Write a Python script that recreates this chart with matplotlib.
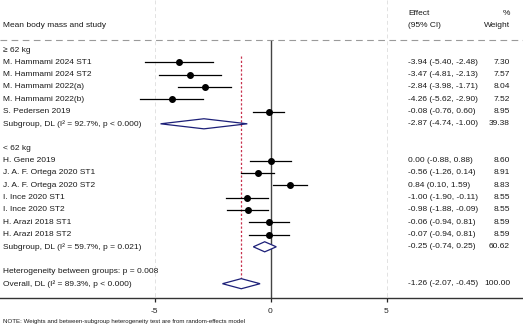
import matplotlib
matplotlib.use("Agg")
import matplotlib.pyplot as plt
import matplotlib.transforms as mtransforms
from matplotlib.patches import Polygon

plt.rcParams['font.family'] = ['Liberation Sans', 'DejaVu Sans']

# Study-level estimates (effect, lower CI, upper CI, weight %)
group1_label = "\u2265 62 kg"
group1_studies = ["M. Hammami 2024 ST1", "M. Hammami 2024 ST2", "M. Hammami 2022(a)",
                  "M. Hammami 2022(b)", "S. Pedersen 2019"]
group1_effect = [-3.94, -3.47, -2.84, -4.26, -0.08]
group1_lower = [-5.40, -4.81, -3.98, -5.62, -0.76]
group1_upper = [-2.48, -2.13, -1.71, -2.90, 0.60]
group1_weight = [7.30, 7.57, 8.04, 7.52, 8.95]
group1_sub_label = "Subgroup, DL (I\u00b2 = 92.7%, p < 0.000)"
group1_sub = (-2.87, -4.74, -1.00, 39.38)

group2_label = "< 62 kg"
group2_studies = ["H. Gene 2019", "J. A. F. Ortega 2020 ST1", "J. A. F. Ortega 2020 ST2",
                  "I. Ince 2020 ST1", "I. Ince 2020 ST2", "H. Arazi 2018 ST1", "H. Arazi 2018 ST2"]
group2_effect = [0.00, -0.56, 0.84, -1.00, -0.98, -0.06, -0.07]
group2_lower = [-0.88, -1.26, 0.10, -1.90, -1.88, -0.94, -0.94]
group2_upper = [0.88, 0.14, 1.59, -0.11, -0.09, 0.81, 0.81]
group2_weight = [8.60, 8.91, 8.83, 8.55, 8.55, 8.59, 8.59]
group2_sub_label = "Subgroup, DL (I\u00b2 = 59.7%, p = 0.021)"
group2_sub = (-0.25, -0.74, 0.25, 60.62)

between_label = "Heterogeneity between groups: p = 0.008"
overall_label = "Overall, DL (I\u00b2 = 89.3%, p < 0.000)"
overall = (-1.26, -2.07, -0.45, 100.00)

x_ticks = [-5, 0, 5]
note = "NOTE: Weights and between-subgroup heterogeneity test are from random-effects model"

W, H = 523, 326
fig = plt.figure(figsize=(W / 100, H / 100), dpi=100)
ax_bottom_px = 298
ax = fig.add_axes([0, (H - ax_bottom_px) / H, 1, ax_bottom_px / H])

row_px = 12.3
first_px = 50
ax.set_ylim((ax_bottom_px - first_px) / row_px, -first_px / row_px)
ax.set_xlim(-270.5 / 23.2, (W - 270.5) / 23.2)

for s in ["top", "left", "right"]:
    ax.spines[s].set_visible(False)
ax.spines["bottom"].set_linewidth(1.0)
ax.spines["bottom"].set_color("#333333")
ax.set_yticks([])
ax.set_xticks(x_ticks)
ax.set_xticklabels([str(t) for t in x_ticks], fontsize=6)
ax.tick_params(axis="x", direction="out", length=3, width=0.9, pad=4, colors="#222222")

trans = mtransforms.blended_transform_factory(ax.transAxes, ax.transData)
fs = 6
label_x = 3 / W
eff_x = 408 / W
wt_x = 510 / W
txt_color = "#1a1a1a"

# header
ax.text(label_x, -2.03, "Mean body mass and study", transform=trans, fontsize=fs, va="center", color=txt_color)
ax.text(eff_x, -3.0, "Effect", transform=trans, fontsize=fs, va="center", color=txt_color)
ax.text(eff_x, -2.03, "(95% CI)", transform=trans, fontsize=fs, va="center", color=txt_color)
ax.text(wt_x, -3.0, "%", transform=trans, fontsize=fs, va="center", ha="right", color=txt_color)
ax.text(wt_x, -2.03, "Weight", transform=trans, fontsize=fs, va="center", ha="right", color=txt_color)
ax.axhline(-0.81, color="#9a9a9a", lw=0.8, ls=(0, (6, 4)))

# faint reference grid
y_top, y_bot = ax.get_ylim()[1], ax.get_ylim()[0]
for t in [-5, 5]:
    ax.plot([t, t], [y_top, y_bot], color="#e2e2e2", lw=0.7, ls=(0, (4, 3)), zorder=0)

def fmt(e, lo, hi):
    return f"{e:.2f} ({lo:.2f}, {hi:.2f})"

def study_row(y, name, e, lo, hi, w):
    ax.text(label_x, y, name, transform=trans, fontsize=fs, va="center", color=txt_color)
    ax.plot([lo, hi], [y, y], color="black", lw=0.9, zorder=3)
    ax.plot([e], [y], marker="o", color="black", markersize=4.0, zorder=4)
    ax.text(eff_x, y, fmt(e, lo, hi), transform=trans, fontsize=fs, va="center", color=txt_color)
    ax.text(wt_x, y, f"{w:.2f}", transform=trans, fontsize=fs, va="center", ha="right", color=txt_color)

def diamond_row(y, name, vals):
    e, lo, hi, w = vals
    ax.text(label_x, y, name, transform=trans, fontsize=fs, va="center", color=txt_color)
    hh = 0.41
    poly = Polygon([[lo, y], [e, y - hh], [hi, y], [e, y + hh]], closed=True,
                   facecolor="white", edgecolor="#1c1f78", lw=0.9, zorder=4)
    ax.add_patch(poly)
    ax.text(eff_x, y, fmt(e, lo, hi), transform=trans, fontsize=fs, va="center", color=txt_color)
    ax.text(wt_x, y, f"{w:.2f}", transform=trans, fontsize=fs, va="center", ha="right", color=txt_color)

row = 0
ax.text(label_x, row, group1_label, transform=trans, fontsize=fs, va="center", color=txt_color)
row += 1
for i, name in enumerate(group1_studies):
    study_row(row, name, group1_effect[i], group1_lower[i], group1_upper[i], group1_weight[i])
    row += 1
diamond_row(row, group1_sub_label, group1_sub)
row += 2
ax.text(label_x, row, group2_label, transform=trans, fontsize=fs, va="center", color=txt_color)
row += 1
for i, name in enumerate(group2_studies):
    study_row(row, name, group2_effect[i], group2_lower[i], group2_upper[i], group2_weight[i])
    row += 1
diamond_row(row, group2_sub_label, group2_sub)
row += 2
ax.text(label_x, row, between_label, transform=trans, fontsize=fs, va="center", color=txt_color)
row += 1
overall_row = row
diamond_row(overall_row, overall_label, overall)

# line of no effect and overall-effect line
ax.plot([0, 0], [-0.75, y_bot], color="#444444", lw=1.0, zorder=2)
ax.plot([overall[0], overall[0]], [0.5, overall_row + 0.41], color="#c8324e",
        lw=0.9, ls=(0, (1.8, 1.6)), zorder=2)

fig.text(3 / W, 1 - 321 / H, note, fontsize=4.4, va="center", color=txt_color)

fig.savefig("out.png", dpi=100)
